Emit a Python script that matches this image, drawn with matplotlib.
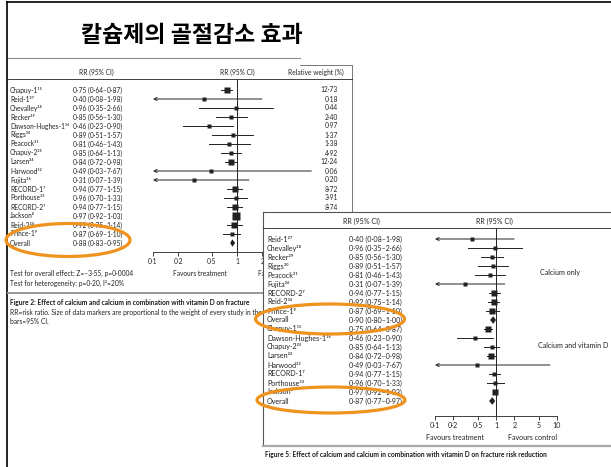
import matplotlib
matplotlib.use("Agg")
import matplotlib.pyplot as plt  # noqa: E402
from matplotlib.patches import Rectangle, Ellipse, Polygon  # noqa: E402

W, H = 611, 467
ROW = 9  # px between study rows

plt.rcParams["font.family"] = ["Lato", "DejaVu Sans"]

TITLE = "칼슘제의 골절감소 효과"

# Figure 2: all trials pooled
f2_names = ["Chapuy-1¹⁵", "Reid-1²⁷", "Chevalley²⁸", "Recker²⁹", "Dawson-Hughes-1¹⁶",
            "Riggs³⁰", "Peacock³¹", "Chapuy-2²⁵", "Larsen²⁴", "Harwood³²", "Fujita²⁶",
            "RECORD-1⁷", "Porthouse³³", "RECORD-2⁷", "Jackson⁸", "Reid-2³⁴", "Prince-1⁹",
            "Overall"]
f2_rr = [0.75, 0.40, 0.96, 0.85, 0.46, 0.89, 0.81, 0.85, 0.84, 0.49, 0.31,
         0.94, 0.96, 0.94, 0.97, 0.92, 0.87, 0.88]
f2_lo = [0.64, 0.08, 0.35, 0.56, 0.23, 0.51, 0.46, 0.64, 0.72, 0.03, 0.07,
         0.77, 0.70, 0.77, 0.92, 0.75, 0.69, 0.83]
f2_hi = [0.87, 1.98, 2.66, 1.30, 0.90, 1.57, 1.43, 1.13, 0.98, 7.67, 1.39,
         1.15, 1.33, 1.15, 1.03, 1.14, 1.10, 0.95]
f2_weight = [12.73, 0.18, 0.44, 2.40, 0.97, 1.37, 1.38, 4.92, 12.24, 0.06, 0.20,
             8.72, 3.91, 8.74]

# Figure 5: calcium only / calcium + vitamin D
f5_names = ["Reid-1²⁷", "Chevalley²⁸", "Recker²⁹", "Riggs³⁰", "Peacock³¹", "Fujita²⁶",
            "RECORD-2⁷", "Reid-2³⁴", "Prince-1⁹", "Overall",
            "Chapuy-1¹⁵", "Dawson-Hughes-1¹⁶", "Chapuy-2²⁵", "Larsen²⁴", "Harwood³²",
            "RECORD-1⁷", "Porthouse³³", "Jackson⁸", "Overall"]
f5_rr = [0.40, 0.96, 0.85, 0.89, 0.81, 0.31, 0.94, 0.92, 0.87, 0.90,
         0.75, 0.46, 0.85, 0.84, 0.49, 0.94, 0.96, 0.97, 0.87]
f5_lo = [0.08, 0.35, 0.56, 0.51, 0.46, 0.07, 0.77, 0.75, 0.69, 0.80,
         0.64, 0.23, 0.64, 0.72, 0.03, 0.77, 0.70, 0.92, 0.77]
f5_hi = [1.98, 2.66, 1.30, 1.57, 1.43, 1.39, 1.15, 1.14, 1.10, 1.00,
         0.87, 0.90, 1.13, 0.98, 7.67, 1.15, 1.33, 1.03, 0.97]
f5_groups = ["Calcium only", "Calcium and vitamin D"]

TICKS = [0.1, 0.2, 0.5, 1, 2, 5, 10]
TICK_LABELS = ["0·1", "0·2", "0·5", "1", "2", "5", "10"]

# marker sizes (pt) for the study squares
f2_ms = [4.4, 2.2, 2.2, 3.0, 2.6, 2.6, 2.6, 3.4, 4.4, 2.2, 2.2, 3.8, 3.4, 3.8, 5.4, 3.8, 3.4, 0]
f5_ms = [2.4, 2.4, 2.6, 2.6, 2.6, 2.4, 4.4, 4.4, 3.8, 0,
         4.0, 2.6, 3.4, 4.0, 2.4, 3.4, 3.0, 4.4, 0]

INK = "#222222"
TXT = "#222222"
ORANGE = "#F0921E"
FS2 = 4.8   # Figure 2 text
FS5 = 5.1   # Figure 5 text


def fmt(v):
    return f"{v:.2f}".replace(".", "·")


def ci_label(rr, lo, hi):
    return f"{fmt(rr)} ({fmt(lo)}–{fmt(hi)})"


fig = plt.figure(figsize=(W / 100, H / 100), dpi=100)


def pixel_axes(z):
    ax = fig.add_axes([0, 0, 1, 1], zorder=z)
    ax.set_xlim(0, W)
    ax.set_ylim(H, 0)
    ax.axis("off")
    return ax


def forest_axes(x0, x1, y0, y1, first_row, z, fs):
    ax = fig.add_axes([x0 / W, 1 - y1 / H, (x1 - x0) / W, (y1 - y0) / H], zorder=z)
    ax.set_xscale("log")
    ax.set_xlim(0.1, 10)
    ax.set_ylim((y1 - first_row) / ROW, -(first_row - y0) / ROW)
    ax.patch.set_alpha(0)
    for s in ("top", "right", "left"):
        ax.spines[s].set_visible(False)
    ax.spines["bottom"].set_linewidth(0.6)
    ax.spines["bottom"].set_color(INK)
    ax.set_yticks([])
    ax.set_xticks(TICKS)
    ax.set_xticklabels(TICK_LABELS)
    ax.minorticks_off()
    ax.tick_params(axis="x", length=3, width=0.6, pad=1.5, labelsize=fs,
                   color=INK, labelcolor=TXT)
    ax.axvline(1, color=INK, lw=0.7)
    return ax


def draw_forest(ax, names, rr, lo, hi, ms):
    for i, (n, r, a, b, m) in enumerate(zip(names, rr, lo, hi, ms)):
        if n == "Overall":
            ax.add_patch(Polygon([(a, i), (r, i - 0.42), (b, i), (r, i + 0.42)],
                                 closed=True, color=INK, lw=0, clip_on=False))
            continue
        if a < 0.1:
            ax.annotate("", xy=(0.1, i), xytext=(b, i),
                        arrowprops=dict(arrowstyle="->", lw=0.7, color=INK,
                                        shrinkA=0, shrinkB=0, mutation_scale=5.5))
        else:
            ax.plot([a, b], [i, i], color=INK, lw=0.7, clip_on=False)
        ax.plot(r, i, marker="s", ms=m, color=INK, mec="none", clip_on=False)


# slide background, title and the Figure 2 panel text
bg = pixel_axes(0)
visible = Polygon([(0, 0), (W, 0), (W, 212), (263, 212), (263, H), (0, H)],
                  closed=True, transform=bg.transData)
bg.plot([7, 7], [2, H], color="black", lw=1.2)
bg.plot([7, W], [2, 2], color="black", lw=1.2)
bg.text(192, 36, TITLE, ha="center", va="center", fontsize=16.5, fontweight="bold",
        family=["Noto Sans CJK KR", "DejaVu Sans"], color="black")
bg.plot([8, 300], [58, 58], color="#888888", lw=0.8)
bg.plot([300, 352, 352], [65, 65, 293], color="#777777", lw=0.7)
bg.plot([8, 352], [79, 79], color=INK, lw=0.6)
bg.plot([8, 352], [293, 293], color="#999999", lw=1.4)

bg.text(96, 72, "RR (95% CI)", ha="center", va="center", fontsize=FS2, color=TXT)
bg.text(237, 72, "RR (95% CI)", ha="center", va="center", fontsize=FS2, color=TXT)
bg.text(316, 72, "Relative weight (%)", ha="center", va="center", fontsize=FS2, color=TXT)
for i, n in enumerate(f2_names):
    y = 90 + ROW * i
    bg.text(10, y, n, ha="left", va="center", fontsize=FS2, color=TXT)
    bg.text(73, y, ci_label(f2_rr[i], f2_lo[i], f2_hi[i]), ha="left", va="center",
            fontsize=FS2, color=TXT)
for i, w in enumerate(f2_weight):
    bg.text(338, 90 + ROW * i, fmt(w), ha="right", va="center", fontsize=FS2, color=TXT)

bg.text(200, 273, "Favours treatment", ha="center", va="center", fontsize=FS2, color=TXT)
bg.text(10, 273, "Test for overall effect: Z=–3·55, p=0·0004", ha="left", va="center",
        fontsize=FS2, color=TXT)
bg.text(10, 283, "Test for heterogeneity: p=0·20, I²=20%", ha="left", va="center",
        fontsize=FS2, color=TXT)
cut = [
    bg.text(258, 273, "Favours control", ha="left", va="center", fontsize=FS2, color=TXT),
    bg.text(10, 302, "Figure 2: Effect of calcium and calcium in combination with vitamin D "
            "on fracture", ha="left", va="center", fontsize=FS2, fontweight="bold",
            color="#1a1a1a"),
    bg.text(10, 312, "RR=risk ratio. Size of data markers are proportional to the weight of "
            "every study in the", ha="left", va="center", fontsize=FS2, color=TXT),
]
for t in cut:
    t.set_clip_path(visible)
bg.text(10, 322, "bars=95% CI.", ha="left", va="center", fontsize=FS2, color=TXT)

ax2 = forest_axes(153, 321, 80, 252, 90, 1, FS2)
draw_forest(ax2, f2_names, f2_rr, f2_lo, f2_hi, f2_ms)

# Figure 5 panel pasted on top
ov = pixel_axes(2)
ov.patch.set_alpha(0)
ov.add_patch(Rectangle((263, 212), W - 263 + 5, H - 212 + 5, facecolor="white",
                       edgecolor="none"))
ov.plot([263, 263], [446, 212], color="#555555", lw=0.8)
ov.plot([263, W], [212, 212], color="#555555", lw=0.8)
ov.plot([263, W], [228, 228], color=INK, lw=0.6)
ov.plot([263, W], [446, 446], color="#aaaaaa", lw=1.6)
ov.text(361, 221, "RR (95% CI)", ha="center", va="center", fontsize=FS5, color=TXT)
ov.text(494, 221, "RR (95% CI)", ha="center", va="center", fontsize=FS5, color=TXT)
for i, n in enumerate(f5_names):
    y = 239 + ROW * i
    ov.text(267, y, n, ha="left", va="center", fontsize=FS5, color=TXT)
    ov.text(349, y, ci_label(f5_rr[i], f5_lo[i], f5_hi[i]), ha="left", va="center",
            fontsize=FS5, color=TXT)
ov.text(560, 273, f5_groups[0], ha="center", va="center", fontsize=FS5, color=TXT)
ov.text(573, 346, f5_groups[1], ha="center", va="center", fontsize=FS5, color=TXT)
ov.text(455, 437, "Favours treatment", ha="center", va="center", fontsize=FS5, color=TXT)
ov.text(533, 437, "Favours control", ha="center", va="center", fontsize=FS5, color=TXT)
ov.text(265, 454, "Figure 5: Effect of calcium and calcium in combination with vitamin D "
        "on fracture risk reduction", ha="left", va="center", fontsize=FS2,
        fontweight="bold", color="#1a1a1a")

ax5 = forest_axes(435, 557, 229, 416, 239, 3, FS5)
draw_forest(ax5, f5_names, f5_rr, f5_lo, f5_hi, f5_ms)

# highlight rings round the pooled estimates
top = pixel_axes(4)
top.patch.set_alpha(0)
for cx, cy, w, h in [(68, 240, 124, 33), (330, 319, 149, 30), (331, 400, 148, 26)]:
    top.add_patch(Ellipse((cx, cy), w, h, fill=False, edgecolor=ORANGE, lw=2.3))

fig.savefig("out.png", dpi=100)
